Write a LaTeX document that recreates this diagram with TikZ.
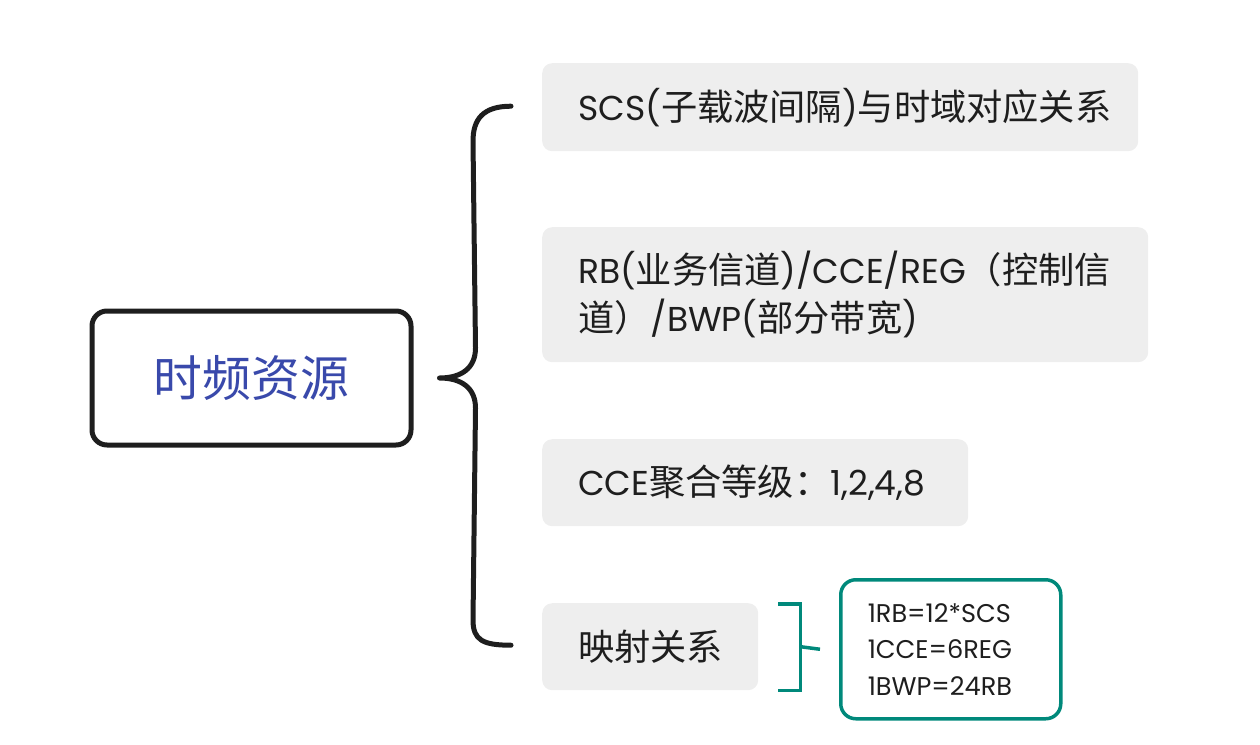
\documentclass[tikz,border=0pt]{standalone}
\usepackage{fontspec}
\setmainfont{Poppins}
\newfontfamily\cjk[Scale=1.05]{Noto Sans CJK SC}
\usetikzlibrary{calc}
\newcommand\zh[1]{{\cjk #1}}
\definecolor{ink}{HTML}{1E1E1E}
\definecolor{boxgrey}{HTML}{EEEEEE}
\definecolor{rootblue}{HTML}{3949AB}
\definecolor{teal}{HTML}{00897B}
\tikzset{
  rootbox/.style={draw=ink, line width=5pt, rounded corners=15pt, fill=white,
    minimum width=319pt, minimum height=134pt, inner sep=0pt,
    text=rootblue, font=\cjk\fontsize{46.5}{56}\selectfont},
  leaf/.style={fill=boxgrey, rounded corners=10pt, anchor=north west,
    inner xsep=36pt, inner ysep=0pt, align=left, text=ink,
    font=\fontsize{34.5}{48}\selectfont},
  notebox/.style={draw=teal, line width=3.5pt, rounded corners=15pt, anchor=north west,
    inner xsep=27pt, inner ysep=0pt, align=left, text=ink, text width=166pt,
    minimum height=139pt, font=\fontsize{25.6}{36.5}\selectfont},
  brace/.style={draw=ink, line width=5pt, line cap=round, line join=round},
  tealbracket/.style={draw=teal, line width=3.5pt},
}
\begin{document}
\begin{tikzpicture}[x=1pt, y=-1pt]
  \useasboundingbox (0,0) rectangle (1260,744);

  % root topic
  \node[rootbox] (root) at (251.5,378) {时频资源};

  % first-level topics
  \node[leaf, text width=524pt, minimum height=88pt] (b1) at (542,63)
    {SCS(\zh{子载波间隔})\zh{与时域对应关系}};
  \node[leaf, text width=534pt, minimum height=135pt] (b2) at (542,227)
    {RB(\zh{业务信道})/CCE/REG\zh{（控制信}\\\zh{道）}/BWP(\zh{部分带宽})};
  \node[leaf, text width=354pt, minimum height=87pt] (b3) at (542,439)
    {CCE\zh{聚合等级：}1,2,4,8};
  \node[leaf, text width=144pt, minimum height=87pt] (b4) at (542,603)
    {\zh{映射关系}};

  % summary of the mapping topic
  \node[notebox] (tb) at (839,578) {1RB=12*SCS\\1CCE=6REG\\1BWP=24RB};

  % curly brace joining the root to its topics
  \coordinate (tip) at ($(root.east)+(26,0)$);
  \coordinate (top) at ($(b1.west)+(-31,-1)$);
  \coordinate (bot) at ($(b4.west)+(-31,-1.5)$);
  \coordinate (sp1) at ($(tip)+(36,-30)$);
  \coordinate (sp2) at ($(bot)+(-38,-25)$);
  \draw[brace] (top) .. controls +(-28,0) and +(0,-22) .. ++(-38,35)
    -- (sp1) .. controls +(0,20) and +(22,0) .. (tip)
    .. controls +(22,0) and +(0,-20) .. ++(36,30)
    -- (sp2) .. controls +(0,20) and +(-28,0) .. (bot);

  % square bracket joining the mapping topic to its summary
  \draw[tealbracket] ($(b4.north east)+(20,1)$) -- ++(22,0)
    -- ($(b4.south east)+(42,0)$) -- ++(-22,0);
  \draw[tealbracket] ($(b4.east)+(42,0)$) -- ($(tb.west)+(-19,0)$);
\end{tikzpicture}
\end{document}
